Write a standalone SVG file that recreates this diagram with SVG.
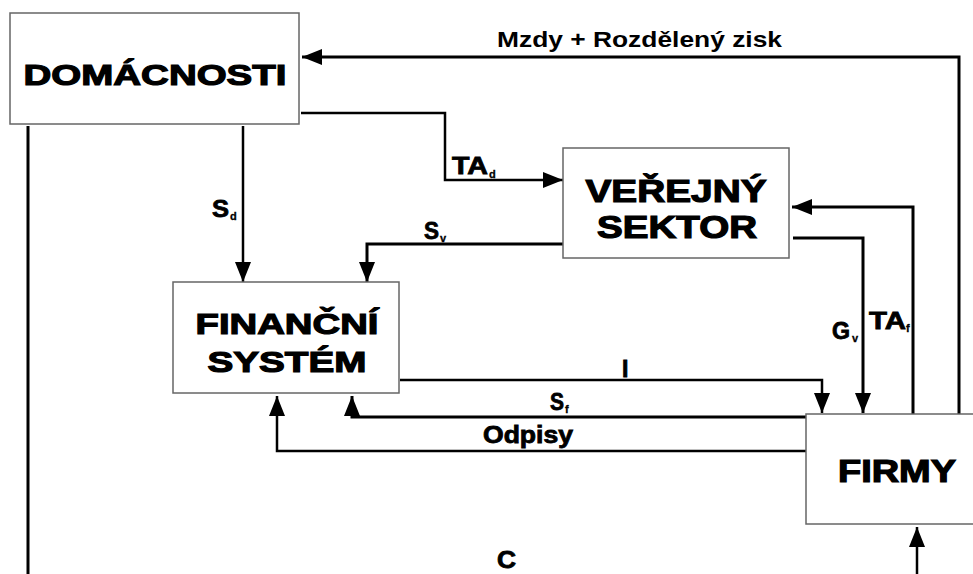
<svg xmlns="http://www.w3.org/2000/svg" width="973" height="574" viewBox="0 0 973 574">
<style>
.box{fill:#fff;stroke:#666;stroke-width:1.5}
.nt{font-family:"Liberation Sans",Arial,sans-serif;font-weight:bold;fill:#000;stroke:#000;stroke-width:1.2;text-anchor:middle}
.lb{font-family:"Liberation Sans",Arial,sans-serif;font-weight:bold;fill:#000;stroke:#000;stroke-width:0.8;font-size:23px}
.sub{font-family:"Liberation Sans",Arial,sans-serif;font-weight:bold;fill:#000;stroke:#000;stroke-width:0.3;font-size:11px}
.ml{font-family:"Liberation Sans",Arial,sans-serif;font-weight:bold;fill:#000;font-size:22px}
.c{fill:none;stroke:#000;stroke-width:2.5;stroke-linejoin:miter}
.t{stroke-width:3}
</style>
<defs>
<marker id="ah" markerUnits="userSpaceOnUse" markerWidth="20" markerHeight="16" refX="20" refY="8" orient="auto">
<path d="M0,0 L20,8 L0,16 z" fill="#000"/>
</marker>
</defs>
<rect width="973" height="574" fill="#fff"/>
<g id="connectors">
<path class="c t" d="M959,414 V57 H302" marker-end="url(#ah)"/>
<path class="c" d="M301,113 H445 V180 H563" marker-end="url(#ah)"/>
<path class="c" d="M243,126 V282" marker-end="url(#ah)"/>
<path class="c t" d="M563,244 H367 V282" marker-end="url(#ah)"/>
<path class="c" d="M400,380 H822 V413" marker-end="url(#ah)"/>
<path class="c t" d="M806,417 H352 V396" marker-end="url(#ah)"/>
<path class="c" d="M806,451 H277 V396" marker-end="url(#ah)"/>
<path class="c t" d="M793,238 H863 V413" marker-end="url(#ah)"/>
<path class="c t" d="M913,414 V207 H792" marker-end="url(#ah)"/>
<path class="c t" d="M28,126 V574"/>
<path class="c" d="M917,574 V527" marker-end="url(#ah)"/>
</g>
<g id="labels">
<text class="ml" x="497" y="47" textLength="285" lengthAdjust="spacingAndGlyphs">Mzdy + Rozdělený zisk</text>
<text class="lb" x="452" y="174" textLength="36" lengthAdjust="spacingAndGlyphs">TA</text><text class="sub" x="489" y="178">d</text>
<text class="lb" x="212" y="217" textLength="17" lengthAdjust="spacingAndGlyphs">S</text><text class="sub" x="230" y="220">d</text>
<text class="lb" x="424" y="239" textLength="15" lengthAdjust="spacingAndGlyphs">S</text><text class="sub" x="440" y="242">v</text>
<text class="lb" x="622" y="377">I</text>
<text class="lb" x="550" y="410" textLength="14" lengthAdjust="spacingAndGlyphs">S</text><text class="sub" x="565" y="413">f</text>
<text class="lb" x="483" y="443" textLength="90" lengthAdjust="spacingAndGlyphs">Odpisy</text>
<text class="lb" x="832" y="339" textLength="18" lengthAdjust="spacingAndGlyphs">G</text><text class="sub" x="852" y="342">v</text>
<text class="lb" x="869" y="329" textLength="37" lengthAdjust="spacingAndGlyphs">TA</text><text class="sub" x="906" y="332">f</text>
<text class="lb" x="497" y="568" textLength="19" lengthAdjust="spacingAndGlyphs">C</text>
</g>
<g id="domacnosti">
<rect class="box" x="10" y="13" width="289" height="111"/>
<text class="nt" x="155" y="85" font-size="30" textLength="263" lengthAdjust="spacingAndGlyphs">DOMÁCNOSTI</text>
</g>
<g id="verejny-sektor">
<rect class="box" x="563" y="148" width="226" height="110"/>
<text class="nt" x="676" y="202" font-size="31" textLength="181" lengthAdjust="spacingAndGlyphs">VEŘEJNÝ</text>
<text class="nt" x="677" y="238" font-size="31" textLength="160" lengthAdjust="spacingAndGlyphs">SEKTOR</text>
</g>
<g id="financni-system">
<rect class="box" x="173" y="282" width="226" height="111"/>
<text class="nt" x="287" y="334" font-size="30" textLength="183" lengthAdjust="spacingAndGlyphs">FINANČNÍ</text>
<text class="nt" x="287" y="372" font-size="30" textLength="159" lengthAdjust="spacingAndGlyphs">SYSTÉM</text>
</g>
<g id="firmy">
<rect class="box" x="806" y="414" width="170" height="110"/>
<text class="nt" x="897" y="482" font-size="31" textLength="118" lengthAdjust="spacingAndGlyphs">FIRMY</text>
</g>
</svg>
